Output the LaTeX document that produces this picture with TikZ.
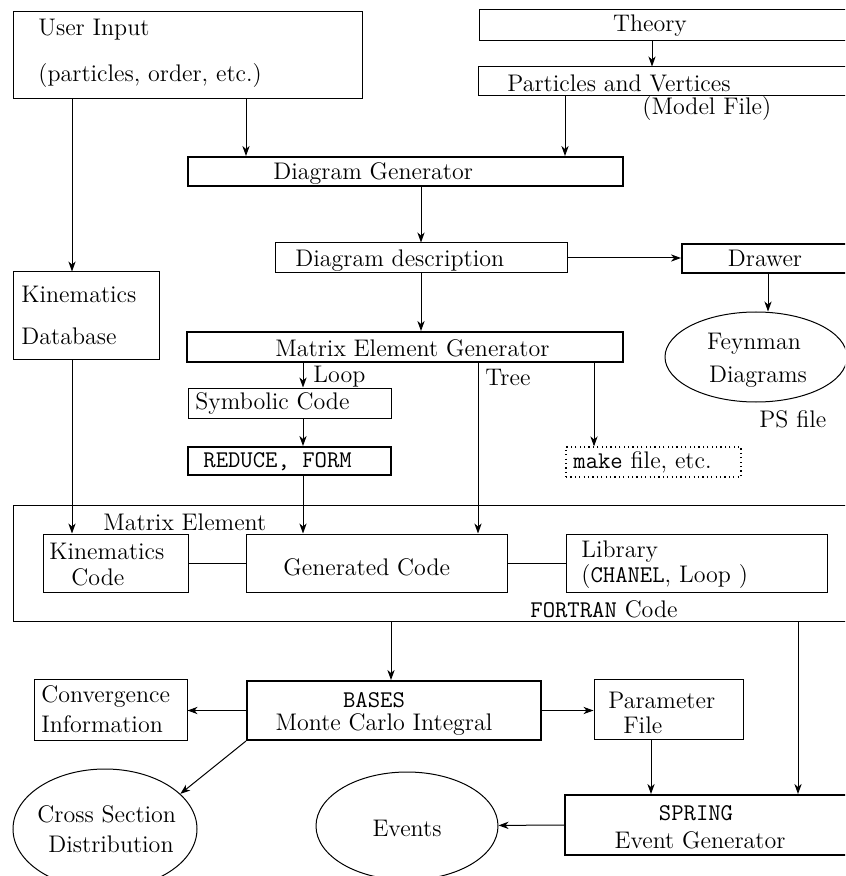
\documentclass[tikz,border=0pt]{standalone}
\usepackage{tikz}
\usetikzlibrary{arrows.meta, positioning, fit, shapes.geometric}

\begin{document}
\begin{tikzpicture}[
    x=0.5pt, y=-0.5pt,
    every node/.style={font=\large},
    box/.style={draw, line width=0.5pt, inner sep=0pt},
    mainbox/.style={draw, line width=1pt, inner sep=0pt},
    filebox/.style={draw, dash pattern=on 0.6pt off 1.6pt, line width=0.6pt, inner sep=0pt},
    result/.style={draw, ellipse, line width=0.5pt, inner sep=0pt},
    lbl/.style={anchor=base west, inner sep=0pt},
    clbl/.style={anchor=base, inner sep=0pt},
    flow/.style={-{Stealth[length=5pt, width=3.6pt, inset=1.5pt]}, line width=0.5pt},
    link/.style={line width=0.5pt}
]
    \useasboundingbox (0,0) rectangle (845,876);
    \clip (0,0) rectangle (845,876);

    % Input side
    \node[box, fit={(13,12) (362,99)}] (user) {};
    \node[lbl] (userA) at (38,36) {User Input};
    \node[lbl] (userB) at (38,82) {(particles, order, etc.)};

    \node[box, fit={(479,10) (860,41)}] (theory) {};
    \node[clbl] (theoryT) at (650,32) {Theory};

    \node[box, fit={(478,67) (860,96)}] (particles) {};
    \node[lbl] (particlesT) at (507,92) {Particles and Vertices};
    \node[lbl] (modelT) at (642,115) {(Model File)};

    \node[box, fit={(13,272) (159,360)}] (kdb) {};
    \node[lbl] (kdbA) at (21,303) {Kinematics};
    \node[lbl] (kdbB) at (21,344) {Database};

    % Generators
    \node[mainbox, fit={(188,157) (623,186)}] (dgen) {};
    \node[lbl] (dgenT) at (273,180) {Diagram Generator};

    \node[box, fit={(275,243) (567,273)}] (ddesc) {};
    \node[lbl] (ddescT) at (295,267) {Diagram description};

    \node[mainbox, fit={(682,244) (860,273)}] (drawer) {};
    \node[clbl] (drawerT) at (765,267) {Drawer};

    \node[result, minimum width=91pt, minimum height=45pt] (feyn) at (756,357) {};
    \node[clbl] (feynA) at (754,350) {Feynman};
    \node[clbl] (feynB) at (758,382) {Diagrams};
    \node[lbl] (psT) at (759,427) {PS file};

    \node[mainbox, fit={(187,332) (623,362)}] (meg) {};
    \node[lbl] (megT) at (275,357) {Matrix Element Generator};
    \node[lbl] (loopT) at (313,382) {Loop};
    \node[lbl] (treeT) at (485,386) {Tree};

    \node[box, fit={(188,388) (391,418)}] (symb) {};
    \node[lbl] (symbT) at (195,409) {Symbolic Code};

    \node[mainbox, fit={(188,447) (391,475)}] (reduce) {};
    \node[lbl] (reduceT) at (203,467) {\ttfamily REDUCE, FORM};

    \node[filebox, fit={(566,447) (741,477)}] (make) {};
    \node[lbl] (makeT) at (573,468) {{\ttfamily make} file, etc.};

    % FORTRAN code block
    \node[box, fit={(13,505) (860,621)}] (fortran) {};
    \node[lbl] (meT) at (103,530) {Matrix Element};
    \node[lbl] (fortranT) at (530,617) {{\ttfamily FORTRAN} Code};

    \node[box, fit={(43,534) (188,592)}] (kcode) {};
    \node[lbl] (kcodeA) at (49,559) {Kinematics};
    \node[lbl] (kcodeB) at (71,585) {Code};

    \node[box, fit={(246,534) (507,592)}] (gencode) {};
    \node[lbl] (gencodeT) at (283,575) {Generated Code};

    \node[box, fit={(566,534) (827,592)}] (library) {};
    \node[lbl] (libraryA) at (581,557) {Library};
    \node[lbl] (libraryB) at (581,582) {({\ttfamily CHANEL}, Loop )};

    % Integration and event generation
    \node[box, fit={(34,679) (187,740)}] (conv) {};
    \node[lbl] (convA) at (41,702) {Convergence};
    \node[lbl] (convB) at (41,732) {Information};

    \node[mainbox, fit={(247,681) (541,740)}] (bases) {};
    \node[clbl] (basesA) at (374,707) {\ttfamily BASES};
    \node[clbl] (basesB) at (384,730) {Monte Carlo Integral};

    \node[box, fit={(594,679) (743,739)}] (param) {};
    \node[lbl] (paramA) at (608,708) {Parameter};
    \node[lbl] (paramB) at (623,733) {File};

    \node[mainbox, fit={(565,795) (860,855)}] (spring) {};
    \node[clbl] (springA) at (696,820) {\ttfamily SPRING};
    \node[clbl] (springB) at (700,848) {Event Generator};

    \node[result, minimum width=92pt, minimum height=60pt] (cross) at (105,829) {};
    \node[lbl] (crossA) at (37,822) {Cross Section};
    \node[lbl] (crossB) at (48,852) {Distribution};

    \node[result, minimum width=91pt, minimum height=54pt] (events) at (407,826) {};
    \node[clbl] (eventsT) at (407,836) {Events};

    % Columns of the connectors
    \coordinate (kx) at (72,0);
    \coordinate (ux) at (246,0);
    \coordinate (px) at (565,0);
    \coordinate (tx) at (652,0);
    \coordinate (dx) at (421,0);
    \coordinate (fx) at (768,0);
    \coordinate (lx) at (303,0);
    \coordinate (rx) at (478,0);
    \coordinate (mx) at (594,0);
    \coordinate (bx) at (391,0);
    \coordinate (sx) at (798,0);
    \coordinate (ax) at (651,0);

    % Connectors
    \draw[flow] (user.south -| ux) -- (dgen.north -| ux);
    \draw[flow] (theory.south -| tx) -- (particles.north -| tx);
    \draw[flow] (particles.south -| px) -- (dgen.north -| px);
    \draw[flow] (user.south -| kx) -- (kdb.north -| kx);
    \draw[flow] (kdb.south -| kx) -- (kcode.north -| kx);
    \draw[flow] (dgen.south -| dx) -- (ddesc.north -| dx);
    \draw[flow] (ddesc.south -| dx) -- (meg.north -| dx);
    \draw[flow] (ddesc.east) -- (drawer.west |- ddesc.east);
    \draw[flow] (drawer.south -| fx) -- (feyn.north -| fx);
    \draw[flow] (meg.south -| lx) -- (symb.north -| lx);
    \draw[flow] (symb.south -| lx) -- (reduce.north -| lx);
    \draw[flow] (reduce.south -| lx) -- (gencode.north -| lx);
    \draw[flow] (meg.south -| rx) -- (gencode.north -| rx);
    \draw[flow] (meg.south -| mx) -- (make.north -| mx);
    \draw[link] (kcode) -- (gencode);
    \draw[link] (gencode) -- (library);
    \draw[flow] (fortran.south -| bx) -- (bases.north -| bx);
    \draw[flow] (fortran.south -| sx) -- (spring.north -| sx);
    \draw[flow] (bases.west) -- (conv.east |- bases.west);
    \draw[flow] (bases.east) -- (param.west |- bases.east);
    \draw[flow] (bases.south west) -- (cross.25);
    \draw[flow] (param.south -| ax) -- (spring.north -| ax);
    \draw[flow] (spring.west) -- (events);
\end{tikzpicture}
\end{document}
